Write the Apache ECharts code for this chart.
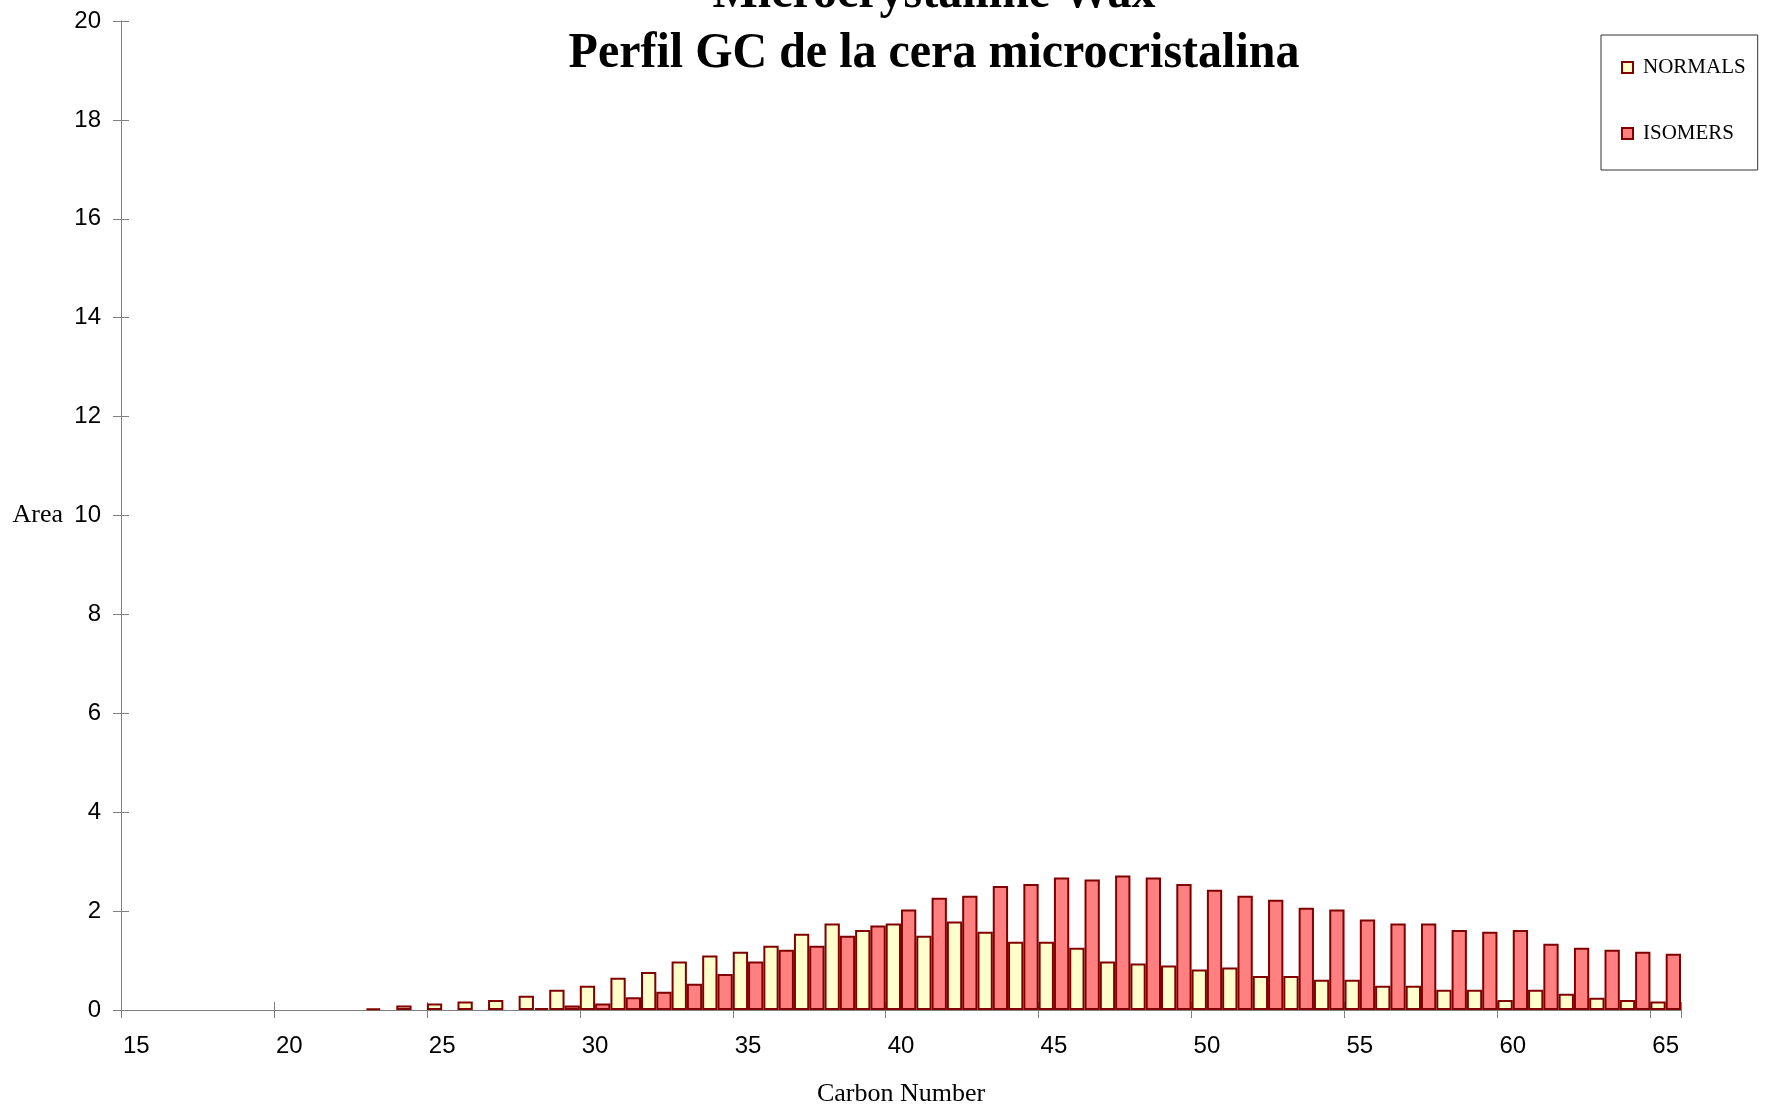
<!DOCTYPE html>
<html>
<head>
<meta charset="utf-8">
<title>Microcrystalline Wax</title>
<script src="https://cdn.jsdelivr.net/npm/echarts@6/dist/echarts.min.js"></script>
<style>
  html, body { margin: 0; padding: 0; background: #fff; }
  #chart { width: 1769px; height: 1109px; }
</style>
</head>
<body>
<div id="chart"></div>
<script>
// carbon numbers 15..65
var carbonNumbers = ['15', '16', '17', '18', '19', '20', '21', '22', '23', '24',
  '25', '26', '27', '28', '29', '30', '31', '32', '33', '34',
  '35', '36', '37', '38', '39', '40', '41', '42', '43', '44',
  '45', '46', '47', '48', '49', '50', '51', '52', '53', '54',
  '55', '56', '57', '58', '59', '60', '61', '62', '63', '64', '65']

// area of normal paraffins
var normals = [null, null, null, null, null, null, null, null, 0.03, 0.09,
  0.13, 0.17, 0.20, 0.29, 0.41, 0.49, 0.65, 0.77, 0.98, 1.10,
  1.18, 1.30, 1.54, 1.75, 1.62, 1.75, 1.50, 1.79, 1.58, 1.38,
  1.38, 1.26, 0.98, 0.94, 0.90, 0.82, 0.86, 0.69, 0.69, 0.61,
  0.61, 0.49, 0.49, 0.41, 0.41, 0.20, 0.41, 0.33, 0.25, 0.20, 0.17]

// area of isomers
var isomers = [null, null, null, null, null, null, null, null, null, null,
  null, null, null, 0.04, 0.09, 0.13, 0.26, 0.37, 0.53, 0.73,
  0.98, 1.22, 1.30, 1.50, 1.71, 2.03, 2.27, 2.31, 2.51, 2.55,
  2.68, 2.64, 2.72, 2.68, 2.55, 2.43, 2.31, 2.23, 2.07, 2.03,
  1.83, 1.75, 1.75, 1.62, 1.58, 1.62, 1.34, 1.26, 1.22, 1.18, 1.14]

var titleLines = ['Microcrystalline Wax', 'Perfil GC de la cera microcristalina']

var serif = '"Liberation Serif", "Times New Roman", serif'
var sans = '"Liberation Sans", Arial, sans-serif'
var axisGray = '#808080'

var myChart = echarts.init(document.getElementById('chart'))

var option = {
  backgroundColor: '#ffffff',
  animation: false,
  // 标题用 graphic 画，方便居中到 934
  graphic: [
    {
      type: 'text',
      x: 934,
      y: -6,
      scaleY: 1.04,
      style: {
        text: titleLines[0],
        font: 'bold 48px ' + serif,
        fill: '#000',
        textAlign: 'center',
        textVerticalAlign: 'middle'
      }
    },
    {
      type: 'text',
      x: 934,
      y: 54,
      scaleY: 1.04,
      style: {
        text: titleLines[1],
        font: 'bold 48px ' + serif,
        fill: '#000',
        textAlign: 'center',
        textVerticalAlign: 'middle'
      }
    }
  ],
  legend: {
    orient: 'vertical',
    left: 1601,
    top: 35,
    padding: [22, 12, 26, 20],
    itemWidth: 11,
    itemHeight: 11,
    itemGap: 45,
    borderColor: '#333',
    borderWidth: 1,
    icon: 'rect',
    selectedMode: false,
    textStyle: {
      fontFamily: serif,
      fontSize: 21,
      color: '#000',
      padding: [0, 0, 0, 5]
    },
    data: ['NORMALS', 'ISOMERS']
  },
  grid: {
    left: 121,
    right: 88,
    top: 21,
    bottom: 99,
    containLabel: false,
    outerBoundsMode: 'none'
  },
  xAxis: [
    {
      type: 'category',
      data: carbonNumbers,
      boundaryGap: true,
      name: 'Carbon Number',
      nameLocation: 'middle',
      nameGap: 71,
      nameTextStyle: { fontFamily: serif, fontSize: 26, color: '#000' },
      axisLine: { show: true, lineStyle: { color: axisGray, width: 1 } },
      axisTick: { show: true, interval: 4, length: 8, lineStyle: { color: axisGray } },
      axisLabel: { interval: 4, margin: 24, fontFamily: sans, fontSize: 24, color: '#000' },
      splitLine: { show: false }
    },
    {
      // 刻度穿过轴线，用第二个轴画内侧那半截
      type: 'category',
      data: carbonNumbers,
      position: 'bottom',
      boundaryGap: true,
      axisLine: { show: false },
      axisTick: { show: true, inside: true, interval: 4, length: 8, lineStyle: { color: axisGray } },
      axisLabel: { show: false },
      splitLine: { show: false }
    }
  ],
  yAxis: [
    {
      type: 'value',
      min: 0,
      max: 20,
      interval: 2,
      name: 'Area',
      nameLocation: 'middle',
      nameRotate: 0,
      nameGap: 58,
      nameTextStyle: { fontFamily: serif, fontSize: 26, color: '#000', align: 'right', verticalAlign: 'middle' },
      axisLine: { show: true, lineStyle: { color: axisGray, width: 1 } },
      axisTick: { show: true, length: 8, lineStyle: { color: axisGray } },
      axisLabel: { margin: 20, fontFamily: sans, fontSize: 24, color: '#000' },
      splitLine: { show: false }
    },
    {
      type: 'value',
      min: 0,
      max: 20,
      interval: 2,
      position: 'left',
      axisLine: { show: false },
      axisTick: { show: true, inside: true, length: 8, lineStyle: { color: axisGray } },
      axisLabel: { show: false },
      splitLine: { show: false }
    }
  ],
  series: [
    {
      name: 'NORMALS',
      type: 'bar',
      xAxisIndex: 0,
      yAxisIndex: 0,
      barGap: '0%',
      barCategoryGap: '0%',
      itemStyle: { color: '#FFFFCC', borderColor: '#800000', borderWidth: 2 },
      data: normals
    },
    {
      name: 'ISOMERS',
      type: 'bar',
      xAxisIndex: 0,
      yAxisIndex: 0,
      barGap: '0%',
      barCategoryGap: '0%',
      itemStyle: { color: '#FF8080', borderColor: '#800000', borderWidth: 2 },
      data: isomers
    }
  ]
}

myChart.setOption(option)
</script>
</body>
</html>
